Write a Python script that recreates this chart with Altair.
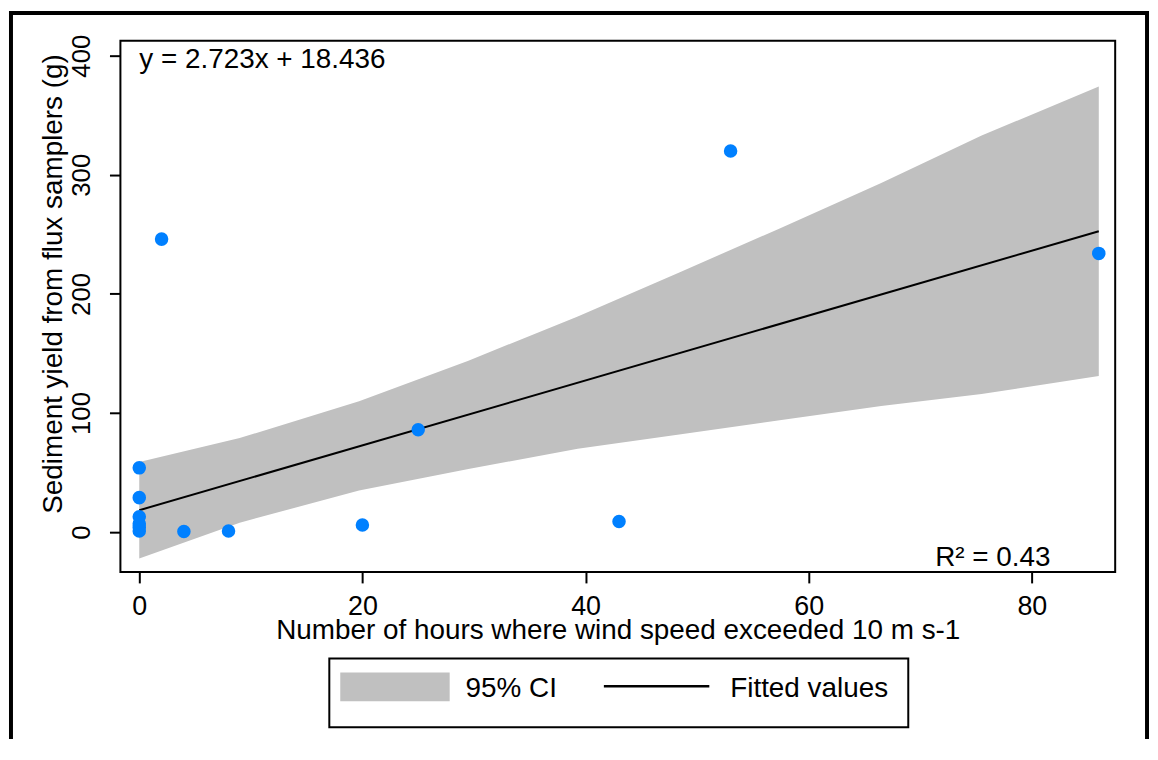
import altair as alt
import pandas as pd

# ---- data ----
hours = [0, 0, 0, 0, 0, 0, 2, 4, 8, 20, 25, 43, 53, 86]
sediment = [54, 29, 13, 7, 4, 1, 246, 0.5, 1, 6, 86, 9, 320, 234]

ci_x = [0, 9, 19.7, 29.5, 39.3, 48.4, 57.4, 66.5, 75.5, 86]
ci_lo = [-22, 8, 35, 53, 70, 82, 94, 106, 116, 131]
ci_hi = [59, 79, 110, 144, 181, 218, 255, 293, 333, 374]

fit_x = [0, 86]
fit_y = [18.436, 252.61]

x_ticks = [0, 20, 40, 60, 80]
y_ticks = [0, 100, 200, 300, 400]

eq_text = ["y = 2.723x + 18.436"]
r2_text = ["R\u00b2 = 0.43"]
legend_labels = ["95% CI", "Fitted values"]

X_DOMAIN = [-1.69, 87.47]
Y_DOMAIN = [-33.4, 412.5]

W, H = 1000, 534
FONT = "Liberation Sans"
BLUE = "#0080ff"
GREY = "#c0c0c0"

pts = pd.DataFrame({"x": hours, "y": sediment})
ci = pd.DataFrame({"x": ci_x, "lo": ci_lo, "hi": ci_hi})
fit = pd.DataFrame({"x": fit_x, "y": fit_y})
one = pd.DataFrame({"a": [0]})

xs = alt.Scale(domain=X_DOMAIN, nice=False, zero=False)
ys = alt.Scale(domain=Y_DOMAIN, nice=False, zero=False)

x_axis = alt.Axis(
    values=x_ticks, title="Number of hours where wind speed exceeded 10 m s-1",
    domain=False, grid=False, tickColor="black", tickWidth=2, tickSize=11,
    labelFont=FONT, labelFontSize=27, labelColor="black", labelPadding=11,
    labelFlush=False, labelOverlap=False,
    titleFont=FONT, titleFontSize=28, titleFontWeight="normal", titleColor="black",
    titleX=500, titleY=67, titleBaseline="alphabetic", titleAlign="center",
)
y_axis = alt.Axis(
    values=y_ticks, title="Sediment yield from flux samplers (g)",
    domain=False, grid=False, tickColor="black", tickWidth=2, tickSize=11,
    labelFont=FONT, labelFontSize=26, labelColor="black", labelPadding=15,
    labelAngle=270, labelAlign="center", labelBaseline="bottom",
    labelFlush=False, labelOverlap=False,
    titleFont=FONT, titleFontSize=28, titleFontWeight="normal", titleColor="black",
    titleAngle=270, titleX=-67, titleY=244, titleBaseline="middle", titleAlign="center",
)

band = alt.Chart(ci).mark_area(color=GREY, opacity=1).encode(
    x=alt.X("x:Q", scale=xs, axis=x_axis),
    y=alt.Y("lo:Q", scale=ys, axis=y_axis),
    y2="hi:Q",
)

line = alt.Chart(fit).mark_line(color="black", strokeWidth=2).encode(
    x=alt.X("x:Q", scale=xs), y=alt.Y("y:Q", scale=ys)
)

points = alt.Chart(pts).mark_circle(color=BLUE, opacity=1, size=185).encode(
    x=alt.X("x:Q", scale=xs), y=alt.Y("y:Q", scale=ys)
)

eq = alt.Chart(pd.DataFrame({"t": eq_text})).mark_text(
    font=FONT, fontSize=28, color="black", align="left", baseline="alphabetic"
).encode(x=alt.value(19), y=alt.value(27), text="t:N")

r2 = alt.Chart(pd.DataFrame({"t": r2_text})).mark_text(
    font=FONT, fontSize=28, color="black", align="right", baseline="alphabetic"
).encode(x=alt.value(935), y=alt.value(528), text="t:N")

# legend (drawn as decoration below the plot)
leg_box = alt.Chart(one).mark_rect(fill="white", stroke="black", strokeWidth=2).encode(
    x=alt.value(210), x2=alt.value(792), y=alt.value(621), y2=alt.value(690)
)
leg_swatch = alt.Chart(one).mark_rect(fill=GREY).encode(
    x=alt.value(221), x2=alt.value(331), y=alt.value(635), y2=alt.value(664)
)
leg_line = alt.Chart(one).mark_rule(color="black", strokeWidth=2.5).encode(
    x=alt.value(486), x2=alt.value(592), y=alt.value(649)
)
leg_t1 = alt.Chart(pd.DataFrame({"t": [legend_labels[0]]})).mark_text(
    font=FONT, fontSize=28, color="black", align="left", baseline="alphabetic"
).encode(x=alt.value(347), y=alt.value(660), text="t:N")
leg_t2 = alt.Chart(pd.DataFrame({"t": [legend_labels[1]]})).mark_text(
    font=FONT, fontSize=28, color="black", align="left", baseline="alphabetic"
).encode(x=alt.value(613), y=alt.value(660), text="t:N")

# outer frame (top, left, right)
fr_top = alt.Chart(one).mark_rule(color="black", strokeWidth=4, strokeCap="square").encode(
    x=alt.value(-110), x2=alt.value(1032), y=alt.value(-28)
)
fr_left = alt.Chart(one).mark_rule(color="black", strokeWidth=4, strokeCap="square").encode(
    x=alt.value(-110), y=alt.value(-28), y2=alt.value(700)
)
fr_right = alt.Chart(one).mark_rule(color="black", strokeWidth=4, strokeCap="square").encode(
    x=alt.value(1032), y=alt.value(-28), y2=alt.value(700)
)

chart = alt.layer(
    band, line, points, eq, r2,
    leg_box, leg_swatch, leg_line, leg_t1, leg_t2,
    fr_top, fr_left, fr_right,
).properties(
    width=W, height=H, padding=0, background="white"
).configure_view(stroke="black", strokeWidth=2)

chart.save("out.html", embed_options={"renderer": "svg", "actions": False})
